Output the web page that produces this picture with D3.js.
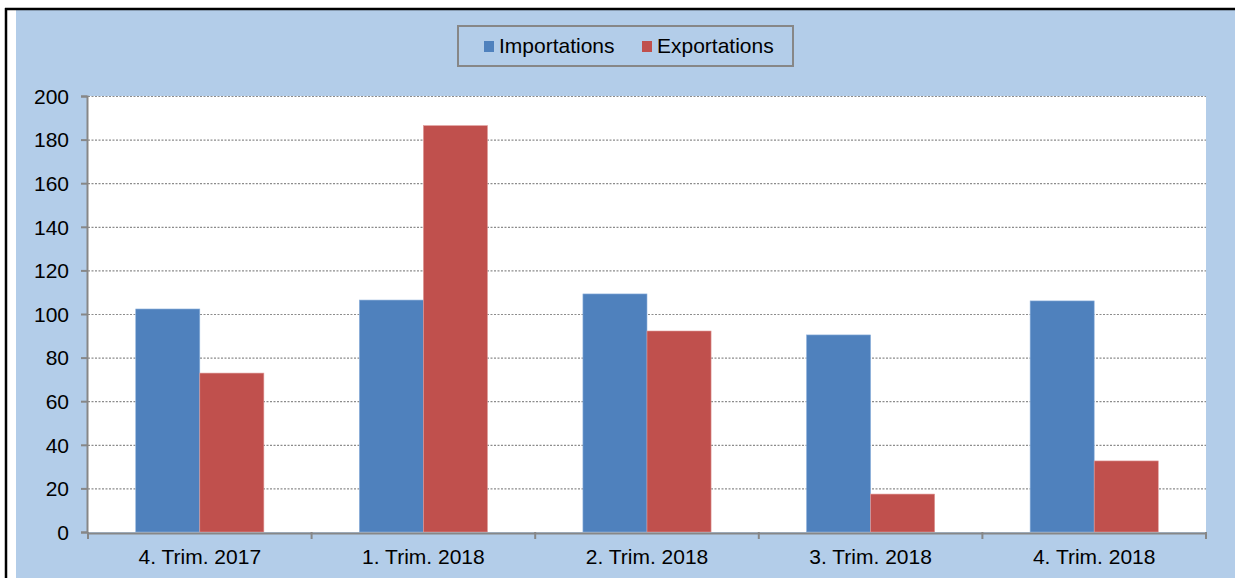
<!DOCTYPE html>
<html>
<head>
<meta charset="utf-8">
<script src="https://cdn.jsdelivr.net/npm/d3@7.9.0/dist/d3.min.js"></script>
<style>
  body { margin: 0; background: #fff; }
  svg { display: block; font-family: Arial, "Liberation Sans", sans-serif; }
</style>
</head>
<body>
<svg id="chart" width="1235" height="578"></svg>
<script>
const categories = ['4. Trim. 2017', '1. Trim. 2018', '2. Trim. 2018', '3. Trim. 2018', '4. Trim. 2018'];
const seriesNames = ['Importations', 'Exportations'];
const importations = [102.3, 106.4, 109.2, 90.4, 106.0];
const exportations = [72.9, 186.4, 92.2, 17.4, 32.6];
const yTicks = [0, 20, 40, 60, 80, 100, 120, 140, 160, 180, 200];
const colors = ['#4F81BD', '#C0504D'];

const width = 1235, height = 578;
const plot = { left: 88, right: 1206, top: 96, bottom: 532 };

const svg = d3.select('#chart');

// outer frame
svg.append('rect').attr('x', 0).attr('y', 0).attr('width', width).attr('height', height).attr('fill', '#fff');
svg.append('rect').attr('x', 16).attr('y', 10).attr('width', width - 16).attr('height', height - 10).attr('fill', '#B3CDE9');
svg.append('line').attr('x1', 6).attr('x2', 6).attr('y1', 8).attr('y2', height).attr('stroke', '#000').attr('stroke-width', 2.5);
svg.append('line').attr('x1', 5).attr('x2', width).attr('y1', 9).attr('y2', 9).attr('stroke', '#000').attr('stroke-width', 2.5);

// plot area
svg.append('rect')
  .attr('x', plot.left).attr('y', plot.top)
  .attr('width', plot.right - plot.left).attr('height', plot.bottom - plot.top)
  .attr('fill', '#fff');

const x0 = d3.scaleBand().domain(categories).range([plot.left, plot.right]).paddingInner(0).paddingOuter(0);
const x1 = d3.scaleBand().domain(seriesNames).range([0, x0.bandwidth()]).paddingInner(0).paddingOuter(0.745);
const y = d3.scaleLinear().domain([0, 200]).range([plot.bottom, plot.top]);

// gridlines
svg.append('g')
  .selectAll('line')
  .data(yTicks.filter(d => d > 0))
  .join('line')
  .attr('x1', plot.left).attr('x2', plot.right)
  .attr('y1', d => y(d) + 0.5).attr('y2', d => y(d) + 0.5)
  .attr('stroke', '#8c8c8c').attr('stroke-width', 1.2)
  .attr('stroke-dasharray', '2,1.5');

// bars
const rows = categories.map((c, i) => ({ cat: c, values: [importations[i], exportations[i]] }));
svg.append('g')
  .selectAll('g')
  .data(rows)
  .join('g')
  .attr('transform', d => `translate(${x0(d.cat)},0)`)
  .selectAll('rect')
  .data(d => d.values.map((v, j) => ({ name: seriesNames[j], v, j })))
  .join('rect')
  .attr('x', d => x1(d.name))
  .attr('y', d => y(d.v))
  .attr('width', x1.bandwidth())
  .attr('height', d => y(0) - y(d.v))
  .attr('fill', d => colors[d.j])
  .attr('stroke', d => d.j === 0 ? '#8fb2dc' : '#e09a98')
  .attr('stroke-width', 0.6);

// y axis
const yAxis = svg.append('g')
  .attr('transform', `translate(${plot.left - 1},0)`)
  .call(d3.axisLeft(y).tickValues(yTicks).tickSize(6).tickPadding(12));
yAxis.select('.domain').attr('stroke', '#878787').attr('stroke-width', 2);
yAxis.selectAll('.tick line').attr('stroke', '#878787').attr('stroke-width', 2);
yAxis.selectAll('.tick text').attr('font-size', 21).attr('fill', '#000').attr('dy', '0.35em');

// x axis
const xAxis = svg.append('g')
  .attr('transform', `translate(0,${plot.bottom + 1})`)
  .call(d3.axisBottom(x0).tickSize(0).tickPadding(16));
xAxis.select('.domain').attr('stroke', '#878787').attr('stroke-width', 2);
xAxis.selectAll('.tick text').attr('font-size', 21).attr('fill', '#000');
svg.append('g')
  .selectAll('line')
  .data(categories.concat(['end']))
  .join('line')
  .attr('x1', (d, i) => i < categories.length ? x0(d) : plot.right)
  .attr('x2', (d, i) => i < categories.length ? x0(d) : plot.right)
  .attr('y1', plot.bottom)
  .attr('y2', plot.bottom + 7)
  .attr('stroke', '#878787').attr('stroke-width', 2);

// legend
const legend = svg.append('g').attr('transform', 'translate(458,26)');
legend.append('rect').attr('width', 335).attr('height', 40)
  .attr('fill', 'none').attr('stroke', '#878787').attr('stroke-width', 2);
const items = [{ name: 'Importations', x: 26 }, { name: 'Exportations', x: 184 }];
items.forEach((it, i) => {
  legend.append('rect').attr('x', it.x).attr('y', 15).attr('width', 10).attr('height', 11).attr('fill', colors[i]);
  legend.append('text').attr('x', it.x + 15).attr('y', 27).attr('font-size', 21).attr('fill', '#000').text(it.name);
});
</script>
</body>
</html>
